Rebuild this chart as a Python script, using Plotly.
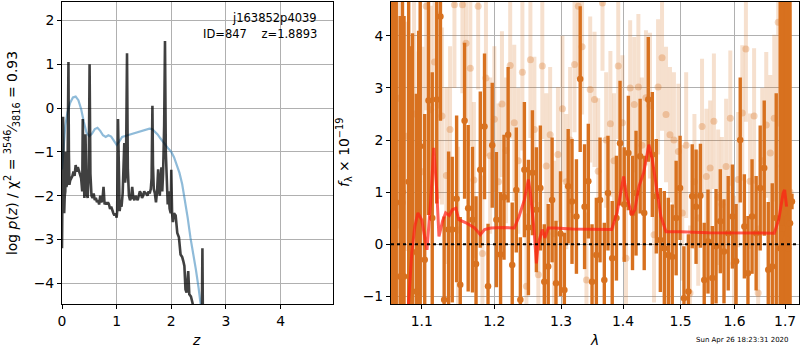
import plotly.graph_objects as go

# ---------------- left panel: p(z) ----------------
z_pz = [0.000, 0.010, 0.020, 0.030, 0.040, 0.050, 0.060, 0.070, 0.080, 0.090,
        0.100, 0.110, 0.118, 0.126, 0.135, 0.150, 0.170, 0.190, 0.210, 0.230,
        0.250, 0.270, 0.290, 0.310, 0.330, 0.350, 0.370, 0.380, 0.390, 0.410,
        0.430, 0.450, 0.470, 0.490, 0.505, 0.520, 0.540, 0.560, 0.580, 0.600,
        0.620, 0.640, 0.660, 0.680, 0.700, 0.720, 0.740, 0.760, 0.780, 0.800,
        0.820, 0.840, 0.860, 0.880, 0.900, 0.920, 0.940, 0.960, 0.980, 1.000,
        1.010, 1.025, 1.040, 1.055, 1.070, 1.090, 1.110, 1.125, 1.140, 1.155,
        1.170, 1.190, 1.205, 1.225, 1.245, 1.265, 1.285, 1.305, 1.325, 1.345,
        1.365, 1.385, 1.405, 1.425, 1.445, 1.465, 1.485, 1.505, 1.525, 1.545,
        1.565, 1.585, 1.605, 1.625, 1.640, 1.655, 1.665, 1.680, 1.700, 1.720,
        1.740, 1.760, 1.775, 1.790, 1.805, 1.820, 1.835, 1.850, 1.870, 1.885,
        1.900, 1.915, 1.935, 1.950, 1.970, 1.990, 2.000, 2.015, 2.030, 2.050,
        2.080, 2.110, 2.140, 2.170, 2.200, 2.220, 2.240, 2.260, 2.280, 2.310,
        2.330, 2.360, 2.390, 2.420, 2.500, 2.555, 2.570, 2.585, 2.650]
logpz = [-3.20, -1.00, -0.20, -1.50, -2.40, -2.00, -1.90, -1.00, -1.80, -1.75,
         -1.70, -0.50, 1.05, -1.00, -1.75, -1.65, -1.60, -1.55, -1.45, -1.55,
         -1.30, -1.45, -1.35, -1.45, -1.50, -1.60, -1.90, -0.25, -1.20, -2.05,
         -0.60, -1.95, -2.05, -1.40, 1.00, -1.50, -2.00, -2.05, -1.95, -2.10,
         -2.05, -2.15, -2.10, -2.20, -2.00, -2.15, -2.10, -1.80, -2.20, -2.15,
         -2.20, -2.15, -2.20, -2.30, -2.25, -2.35, -2.40, -2.45, -2.40, -2.50,
         -2.35, -0.25, -1.70, -2.35, -2.20, -2.25, -1.95, -1.30, -0.80, -1.70,
         -1.50, 1.25, -1.40, -2.00, -2.10, -2.05, -1.80, -2.05, -2.10, -2.00,
         -2.05, -2.10, -2.00, -1.90, -1.95, -2.05, -2.00, -1.90, -1.95, -1.95,
         -2.00, -1.90, -1.95, -1.85, -1.60, 0.05, -1.30, -1.85, -1.95, -2.15,
         -1.90, -1.40, -1.85, -2.00, -1.60, -1.35, -1.90, -1.50, -0.40, 1.53,
         -1.00, -1.75, -2.20, -1.90, -2.30, -2.40, -1.41, -2.40, -2.60, -2.40,
         -2.45, -2.85, -2.95, -3.34, -3.40, -3.49, -3.60, -4.14, -4.21, -3.72,
         -4.25, -4.30, -4.45, -5.00, -6.00, -5.50, -3.20, -6.00, -7.00]

z_prior = [0.00, 0.03, 0.06, 0.10, 0.15, 0.20, 0.25, 0.30, 0.35, 0.40,
           0.45, 0.50, 0.55, 0.60, 0.65, 0.70, 0.75, 0.80, 0.85, 0.90,
           0.95, 1.00, 1.05, 1.10, 1.20, 1.30, 1.40, 1.50, 1.60, 1.65,
           1.70, 1.75, 1.80, 1.85, 1.90, 1.95, 2.00, 2.05, 2.10, 2.15,
           2.20, 2.25, 2.30, 2.35, 2.40, 2.45, 2.50, 2.55, 2.60]
logprior = [-1.40, -0.80, -0.40, -0.10, 0.12, 0.24, 0.26, 0.18, -0.02, -0.32,
            -0.57, -0.64, -0.58, -0.48, -0.45, -0.52, -0.62, -0.66, -0.62, -0.65,
            -0.76, -0.84, -0.76, -0.66, -0.62, -0.58, -0.55, -0.51, -0.47, -0.48,
            -0.53, -0.60, -0.69, -0.76, -0.85, -0.93, -1.00, -1.12, -1.28, -1.48,
            -1.74, -2.10, -2.50, -2.95, -3.30, -3.68, -4.10, -4.60, -5.10]

# ---------------- right panel: spectrum ----------------
lam_a = [1.062, 1.067, 1.072, 1.077, 1.083, 1.088, 1.093, 1.098, 1.104, 1.109,
         1.114, 1.120, 1.125, 1.130, 1.136, 1.141, 1.147, 1.152, 1.158, 1.163,
         1.169, 1.174, 1.180, 1.186, 1.191, 1.197, 1.203, 1.209, 1.214, 1.220,
         1.226, 1.232, 1.238, 1.244, 1.250, 1.256, 1.262, 1.268, 1.274, 1.280,
         1.286, 1.292, 1.299, 1.305, 1.311, 1.317, 1.324, 1.330, 1.337, 1.343,
         1.349, 1.356, 1.362, 1.369, 1.375, 1.382, 1.389, 1.395, 1.402, 1.409,
         1.416, 1.422, 1.429, 1.436, 1.443, 1.450, 1.457, 1.464, 1.471, 1.478,
         1.485, 1.492, 1.499, 1.506, 1.514, 1.521, 1.528, 1.536, 1.543, 1.550,
         1.558, 1.565, 1.573, 1.580, 1.588, 1.596, 1.603, 1.611, 1.619, 1.626,
         1.634, 1.642, 1.650, 1.658, 1.666, 1.674, 1.682, 1.690, 1.698, 1.706,
         1.714, 1.064, 1.075, 1.086, 1.096, 1.694, 1.702, 1.710]
flux_a = [-0.62, 0.80, -0.62, -0.62, 1.20, -0.15, -0.91, 1.88, -0.30, 2.76,
          0.50, 2.78, 4.37, -1.07, 0.28, 0.28, 0.87, -0.78, 2.37, 0.69,
          0.47, -0.38, 1.43, 2.26, -0.81, 1.90, 0.47, -0.20, 0.90, 2.10,
          -0.40, 1.04, -1.07, 1.43, 0.32, 1.37, 0.66, 1.08, -0.72, -0.43,
          0.85, -0.75, 0.20, -0.88, 1.11, 0.82, 0.53, 3.17, 0.72, 1.21,
          -0.72, -0.21, 0.85, -0.69, 0.98, -0.27, 0.50, 1.94, 0.76, 1.75,
          0.60, 0.98, 1.69, 0.60, 2.78, 1.72, 0.92, 0.08, -0.08, -0.21,
          -0.24, 0.50, 1.08, -1.04, -0.91, 0.92, 0.72, 0.93, -0.69, 0.05,
          -0.65, -0.04, 0.44, -0.14, 0.21, 0.53, -0.33, 2.00, 0.34, -0.56,
          0.53, 0.21, 1.08, 1.46, -0.49, -0.43, 0.50, -0.08, 0.60, -0.08,
          0.82, 0.50, 1.00, -0.20, 0.60, 0.30, 0.10, 0.40]
err_a = [5.5, 4.5, 5.0, 5.0, 3.8, 4.2, 3.8, 3.4, 2.8, 2.2,
         2.8, 2.0, 2.0, 1.6, 1.5, 1.4, 1.6, 1.3, 1.5, 1.6,
         1.4, 1.3, 1.5, 1.4, 1.2, 1.2, 1.3, 1.2, 1.2, 1.3,
         1.2, 1.2, 1.2, 1.3, 1.3, 1.2, 1.2, 1.2, 1.1, 1.2,
         1.2, 1.2, 1.2, 1.1, 1.1, 1.2, 1.1, 1.4, 1.2, 1.1,
         1.1, 1.1, 1.2, 1.1, 1.1, 1.1, 1.2, 1.2, 1.1, 1.1,
         1.1, 1.2, 1.1, 1.1, 1.2, 1.2, 1.1, 1.0, 1.1, 1.1,
         1.0, 1.1, 1.0, 1.0, 1.1, 1.0, 1.1, 1.0, 1.1, 1.0,
         1.0, 1.1, 1.0, 1.0, 1.1, 1.0, 1.1, 1.2, 1.0, 1.1,
         1.1, 1.1, 1.2, 1.3, 1.3, 1.6, 2.4, 5.0, 5.5, 5.5,
         0.15, 5.0, 4.5, 4.0, 3.5, 5.0, 5.5, 6.0]

lam_b = [1.065, 1.070, 1.075, 1.080, 1.085, 1.090, 1.096, 1.101, 1.106, 1.112,
         1.117, 1.122, 1.127, 1.133, 1.138, 1.144, 1.149, 1.155, 1.160, 1.166,
         1.171, 1.177, 1.183, 1.188, 1.194, 1.200, 1.206, 1.211, 1.217, 1.223,
         1.229, 1.235, 1.241, 1.247, 1.253, 1.259, 1.265, 1.271, 1.277, 1.283,
         1.289, 1.295, 1.302, 1.308, 1.314, 1.321, 1.327, 1.333, 1.340, 1.346,
         1.353, 1.359, 1.366, 1.372, 1.379, 1.385, 1.392, 1.399, 1.405, 1.412,
         1.419, 1.426, 1.432, 1.439, 1.446, 1.453, 1.460, 1.467, 1.474, 1.481,
         1.488, 1.496, 1.503, 1.510, 1.517, 1.525, 1.532, 1.539, 1.547, 1.554,
         1.561, 1.569, 1.576, 1.584, 1.592, 1.599, 1.607, 1.615, 1.622, 1.630,
         1.638, 1.646, 1.654, 1.662, 1.670, 1.678, 1.686, 1.694, 1.702, 1.710]
flux_b = [1.50, 2.80, 0.80, 2.07, 1.00, 2.50, 1.20, 1.39, 4.57, 2.58,
          3.50, 2.67, 2.46, 1.32, 2.20, 4.60, 0.27, 4.60, 3.86, 3.38,
          1.23, 4.57, -0.18, 3.19, 1.70, 2.40, 1.20, 2.69, 1.80, 3.43,
          2.33, 1.60, 3.30, -0.81, 3.54, 2.20, -0.59, 3.42, 1.50, 2.10,
          0.20, 1.72, 2.60, 1.20, 2.00, 3.45, 4.57, 3.79, -0.69, 2.97,
          2.78, 1.40, 4.63, 2.00, 2.31, 1.60, 3.42, 2.33, -0.27, 3.00,
          2.68, 3.02, 1.90, 2.81, 2.66, 0.18, 3.02, 3.58, 2.49, 2.10,
          2.00, 1.78, 0.60, 1.90, -0.94, 1.20, 0.50, 2.26, 1.30, 1.46,
          2.36, 0.90, 0.76, 1.49, 2.42, -0.37, 1.24, 2.52, 3.75, 1.21,
          2.46, -0.94, 1.60, 2.29, 1.75, 2.42, 4.26, 1.50, 3.28, 1.00]
err_b = [3.0, 2.5, 2.8, 2.2, 2.8, 2.2, 2.5, 2.4, 2.0, 2.0,
         1.8, 1.8, 1.7, 1.7, 1.6, 1.6, 1.6, 1.7, 1.5, 1.5,
         1.5, 1.6, 1.5, 1.5, 1.5, 1.4, 1.5, 1.4, 1.4, 1.4,
         1.5, 1.4, 1.5, 1.4, 1.5, 1.4, 1.4, 1.4, 1.4, 1.3,
         1.4, 1.3, 1.4, 1.3, 1.4, 1.3, 1.4, 1.3, 1.3, 1.4,
         1.3, 1.4, 1.3, 1.3, 1.4, 1.3, 1.4, 1.3, 1.4, 1.3,
         1.3, 1.4, 1.3, 1.3, 1.4, 1.3, 1.3, 1.4, 1.3, 1.3,
         1.3, 1.3, 1.3, 1.4, 1.3, 1.3, 1.3, 1.3, 1.3, 1.3,
         1.3, 1.3, 1.3, 1.3, 1.3, 1.3, 1.3, 1.3, 1.4, 1.3,
         1.3, 1.3, 1.4, 1.4, 1.5, 1.6, 2.0, 3.0, 3.0, 3.5]

lam_model = [1.080, 1.083, 1.087, 1.091, 1.095, 1.100, 1.104, 1.107, 1.112, 1.116,
             1.120, 1.123, 1.128, 1.132, 1.137, 1.141, 1.146, 1.150, 1.160, 1.172,
             1.180, 1.186, 1.195, 1.212, 1.229, 1.236, 1.244, 1.250, 1.253, 1.258,
             1.262, 1.265, 1.271, 1.275, 1.280, 1.290, 1.318, 1.350, 1.381, 1.390,
             1.398, 1.401, 1.406, 1.415, 1.420, 1.427, 1.435, 1.444, 1.450, 1.457,
             1.465, 1.474, 1.500, 1.551, 1.611, 1.678, 1.687, 1.696, 1.699, 1.703]
flux_model = [-1.80, -1.15, -0.17, 0.34, 0.60, 0.47, 0.15, -0.11, 0.85, 1.85,
              1.04, 0.15, 0.45, 0.60, 0.55, 0.66, 0.69, 0.47, 0.41, 0.31,
              0.18, 0.28, 0.31, 0.32, 0.31, 0.53, 0.85, 1.24, 0.98, 0.34,
              -0.37, 0.02, 0.28, 0.12, 0.31, 0.31, 0.29, 0.29, 0.28, 0.60,
              1.11, 1.30, 0.92, 0.56, 0.66, 1.11, 1.37, 1.91, 1.62, 1.11,
              0.53, 0.24, 0.24, 0.22, 0.21, 0.21, 0.47, 0.98, 1.04, 0.72]

z_ticks = [0, 1, 2, 3, 4]
pz_ticks = [-4, -3, -2, -1, 0, 1, 2]
lam_ticks = [1.1, 1.2, 1.3, 1.4, 1.5, 1.6, 1.7]
lam_ticktext = ["1.1", "1.2", "1.3", "1.4", "1.5", "1.6", "1.7"]
f_ticks = [-1, 0, 1, 2, 3, 4]

FONT = "DejaVu Sans"
ORANGE = "#d8711f"
LIGHT = "rgba(216,113,31,0.22)"
LIGHT_M = "rgba(216,113,31,0.30)"

fig = go.Figure()

fig.add_trace(go.Scatter(x=z_prior, y=logprior, mode="lines",
                         line=dict(color="rgba(31,119,180,0.5)", width=2.2),
                         xaxis="x", yaxis="y", showlegend=False))
fig.add_trace(go.Scatter(x=z_pz, y=logpz, mode="lines",
                         line=dict(color="rgba(0,0,0,0.75)", width=2.6),
                         xaxis="x", yaxis="y", showlegend=False))

fig.add_trace(go.Scatter(x=lam_b, y=flux_b, mode="markers",
                         marker=dict(color=LIGHT_M, size=7, line=dict(width=0)),
                         error_y=dict(type="data", array=err_b, width=0,
                                      thickness=4, color=LIGHT),
                         xaxis="x2", yaxis="y2", showlegend=False))
fig.add_trace(go.Scatter(x=lam_a, y=flux_a, mode="markers",
                         marker=dict(color=ORANGE, size=6.5, line=dict(width=0)),
                         error_y=dict(type="data", array=err_a, width=0,
                                      thickness=3.4, color=ORANGE),
                         xaxis="x2", yaxis="y2", showlegend=False))
fig.add_trace(go.Scatter(x=lam_model, y=flux_model, mode="lines",
                         line=dict(color="rgba(255,30,20,0.7)", width=3),
                         xaxis="x2", yaxis="y2", showlegend=False))
fig.add_trace(go.Scatter(x=[1.0603, 1.7285], y=[0, 0], mode="lines",
                         line=dict(color="black", width=2, dash="dot"),
                         xaxis="x2", yaxis="y2", showlegend=False))

axis_common = dict(showline=True, linecolor="black", linewidth=1, mirror=True,
                   ticks="outside", ticklen=4, tickwidth=1, tickcolor="black",
                   showgrid=True, gridcolor="#b0b0b0", gridwidth=1,
                   zeroline=False, automargin=False,
                   tickfont=dict(family=FONT, size=13.9, color="black"))

ydom = [0.1314, 0.9957]
fig.update_layout(
    width=800, height=350, margin=dict(l=0, r=0, t=0, b=0),
    paper_bgcolor="white", plot_bgcolor="white",
    font=dict(family=FONT, color="black"),
    xaxis=dict(domain=[0.0775, 0.41625], range=[0, 4.96], tickvals=z_ticks,
               anchor="y", **axis_common),
    yaxis=dict(domain=ydom, range=[-4.47, 2.43], tickvals=pz_ticks,
               anchor="x", **axis_common),
    xaxis2=dict(domain=[0.48875, 0.99875], type="log",
                range=[0.02543, 0.23767], tickvals=lam_ticks,
                ticktext=lam_ticktext, anchor="y2", **axis_common),
    yaxis2=dict(domain=ydom, range=[-1.15, 4.66], tickvals=f_ticks,
                anchor="x2", **axis_common),
)

ann = [
    dict(text="j163852p4039", x=319 / 800, y=1 - 18 / 350, xanchor="right",
         yanchor="middle", font=dict(size=11.5)),
    dict(text="ID=847    z=1.8893", x=319 / 800, y=1 - 34 / 350, xanchor="right",
         yanchor="middle", font=dict(size=11.5)),
    dict(text="<i>z</i>", x=196 / 800, y=1 - 340 / 350, xanchor="center",
         yanchor="middle", font=dict(size=13.9)),
    dict(text="<i>λ</i>", x=594 / 800, y=1 - 340 / 350, xanchor="center",
         yanchor="middle", font=dict(size=13.9)),
    dict(text="log <i>p</i>(<i>z</i>) / χ<sup>2</sup> = <sup>3546</sup>⁄<sub>3816</sub> = 0.93",
         x=12 / 800, y=1 - 153 / 350, xanchor="center", yanchor="middle",
         textangle=-90, font=dict(size=13.9)),
    dict(text="<i>f</i><sub>λ</sub> × 10<sup>−19</sup>", x=344 / 800,
         y=1 - 153 / 350, xanchor="center", yanchor="middle", textangle=-90,
         font=dict(size=13.9)),
    dict(text="Sun Apr 26 18:23:31 2020", x=742 / 800, y=1 - 340 / 350,
         xanchor="center", yanchor="middle", font=dict(size=7)),
]
for a in ann:
    a.update(xref="paper", yref="paper", showarrow=False)
    a["font"]["family"] = FONT
    a["font"]["color"] = "black"
fig.update_layout(annotations=ann)

fig.write_html("out.html", config={"displayModeBar": False},
               post_script="document.body.style.margin='0';"
                           "document.body.style.overflow='hidden';")
